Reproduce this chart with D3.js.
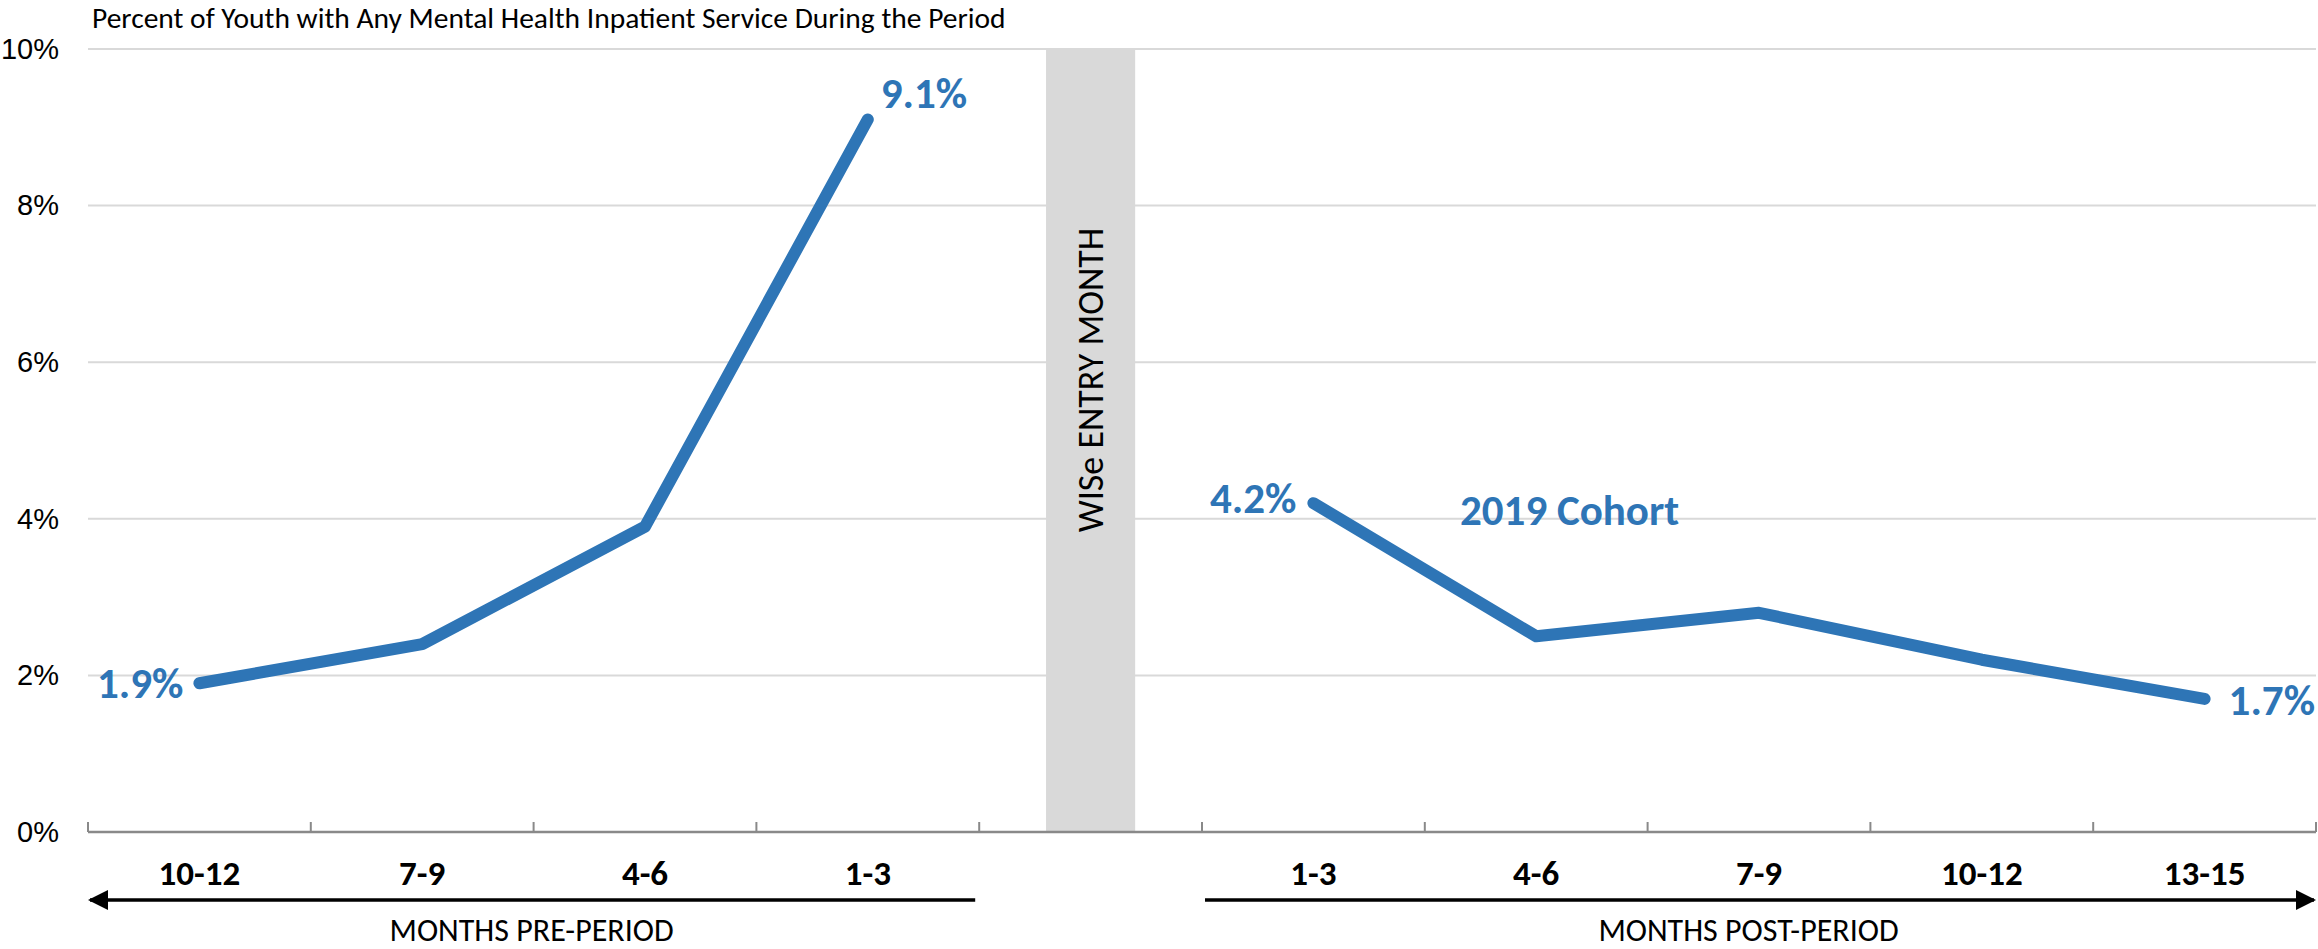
<!DOCTYPE html>
<html>
<head>
<meta charset="utf-8">
<script src="https://cdn.jsdelivr.net/npm/d3@7"></script>
<style>
  html, body { margin: 0; padding: 0; background: #fff; }
  svg { display: block; font-family: Carlito, Calibri, Lato, "Liberation Sans", Arial, sans-serif; }
</style>
</head>
<body>
<svg id="chart" width="2318" height="949"></svg>
<script>
// Quarter buckets around the WISe entry month
const preCategories = ["10-12", "7-9", "4-6", "1-3"];
const postCategories = ["1-3", "4-6", "7-9", "10-12", "13-15"];
const entryCategory = "ENTRY";

// Percent of youth with any mental health inpatient service
const preValues = [1.9, 2.4, 3.9, 9.1];
const postValues = [4.2, 2.5, 2.8, 2.2, 1.7];

const yTicks = [0, 2, 4, 6, 8, 10];
const title = "Percent of Youth with Any Mental Health Inpatient Service During the Period";
const entryLabel = "WISe ENTRY MONTH";
const seriesLabel = "2019 Cohort";
const preAxisTitle = "MONTHS PRE-PERIOD";
const postAxisTitle = "MONTHS POST-PERIOD";

const blue = "#2E75B6";
const svg = d3.select("#chart");

// One band per bucket, the entry month sits in its own band between the periods
const keys = preCategories.map(c => "pre" + c)
  .concat([entryCategory])
  .concat(postCategories.map(c => "post" + c));

const x = d3.scaleBand().domain(keys).range([88, 2316]).padding(0);
const y = d3.scaleLinear().domain([0, 10]).range([832, 49]);

const preData = preCategories.map((c, i) => ({ key: "pre" + c, label: c, value: preValues[i] }));
const postData = postCategories.map((c, i) => ({ key: "post" + c, label: c, value: postValues[i] }));
const cx = d => x(d.key) + x.bandwidth() / 2;

// Horizontal gridlines
svg.append("g").selectAll("line")
  .data(yTicks.filter(t => t > 0))
  .join("line")
  .attr("x1", x.range()[0]).attr("x2", x.range()[1])
  .attr("y1", d => y(d)).attr("y2", d => y(d))
  .attr("stroke", "#d9d9d9").attr("stroke-width", 2);

// Y axis labels
const yAxis = d3.axisLeft(y).tickValues(yTicks).tickFormat(d => d + "%").tickSize(0).tickPadding(0);
svg.append("g")
  .attr("transform", "translate(59,0)")
  .call(yAxis)
  .call(g => g.select(".domain").remove())
  .call(g => g.selectAll("text")
    .attr("font-family", null)
    .attr("font-size", 29)
    .attr("fill", "#000"));

// Shaded entry-month column
const entryW = x.bandwidth() * 0.4;
svg.append("rect")
  .attr("x", x(entryCategory) + (x.bandwidth() - entryW) / 2)
  .attr("y", y(10))
  .attr("width", entryW)
  .attr("height", y(0) - y(10))
  .attr("fill", "#d9d9d9");

svg.append("text")
  .attr("transform", `translate(${x(entryCategory) + x.bandwidth() / 2 + 12},380) rotate(-90)`)
  .attr("text-anchor", "middle")
  .attr("font-size", 36)
  .attr("fill", "#000")
  .text(entryLabel);

// Category axis with ticks at band boundaries
const bounds = keys.map(k => x(k)).concat([x.range()[1]]);
svg.append("line")
  .attr("x1", x.range()[0]).attr("x2", x.range()[1])
  .attr("y1", y(0)).attr("y2", y(0))
  .attr("stroke", "#898989").attr("stroke-width", 2.5);
svg.append("g").selectAll("line")
  .data(bounds)
  .join("line")
  .attr("x1", d => d).attr("x2", d => d)
  .attr("y1", y(0)).attr("y2", y(0) - 10)
  .attr("stroke", "#898989").attr("stroke-width", 2);

svg.append("g").selectAll("text")
  .data(preData.concat(postData))
  .join("text")
  .attr("x", cx)
  .attr("y", 885)
  .attr("text-anchor", "middle")
  .attr("font-size", 35)
  .attr("font-weight", "bold")
  .attr("fill", "#000")
  .text(d => d.label);

// Direction arrows below the categories
const defs = svg.append("defs");
defs.append("marker")
  .attr("id", "arrowHead")
  .attr("viewBox", "0 0 10 10")
  .attr("refX", 9).attr("refY", 5)
  .attr("markerWidth", 20).attr("markerHeight", 20)
  .attr("markerUnits", "userSpaceOnUse")
  .attr("orient", "auto")
  .append("path").attr("d", "M0,0 L10,5 L0,10 Z").attr("fill", "#000");

const preStart = x(preData[preData.length - 1].key) + x.bandwidth() - 4;
const preEnd = x(preData[0].key);
const postStart = x(postData[0].key) + 3;
const postEnd = x.range()[1];
svg.append("line")
  .attr("x1", preStart).attr("x2", preEnd + 2)
  .attr("y1", 900).attr("y2", 900)
  .attr("stroke", "#000").attr("stroke-width", 3.5)
  .attr("marker-end", "url(#arrowHead)");
svg.append("line")
  .attr("x1", postStart).attr("x2", postEnd - 2)
  .attr("y1", 900).attr("y2", 900)
  .attr("stroke", "#000").attr("stroke-width", 3.5)
  .attr("marker-end", "url(#arrowHead)");

svg.append("text")
  .attr("x", (preStart + preEnd) / 2).attr("y", 941)
  .attr("text-anchor", "middle").attr("font-size", 32).attr("fill", "#000")
  .text(preAxisTitle);
svg.append("text")
  .attr("x", (postStart + postEnd) / 2 - 12).attr("y", 941)
  .attr("text-anchor", "middle").attr("font-size", 32).attr("fill", "#000")
  .text(postAxisTitle);

// Title
svg.append("text")
  .attr("x", 92).attr("y", 28)
  .attr("font-size", 29.5).attr("fill", "#000")
  .text(title);

// Lines for the two periods
const line = d3.line().x(cx).y(d => y(d.value));
[preData, postData].forEach(series => {
  svg.append("path")
    .datum(series)
    .attr("d", line)
    .attr("fill", "none")
    .attr("stroke", blue)
    .attr("stroke-width", 12)
    .attr("stroke-linecap", "round")
    .attr("stroke-linejoin", "round");
});

// Value labels on the end points of each period
const fmt = v => v.toFixed(1) + "%";
const endLabels = [
  { d: preData[0], dx: -16, dy: 15, anchor: "end" },
  { d: preData[preData.length - 1], dx: 13, dy: -11, anchor: "start" },
  { d: postData[0], dx: -17, dy: 10, anchor: "end" },
  { d: postData[postData.length - 1], dx: 24, dy: 16, anchor: "start" }
];
svg.append("g").selectAll("text")
  .data(endLabels)
  .join("text")
  .attr("x", e => cx(e.d) + e.dx)
  .attr("y", e => y(e.d.value) + e.dy)
  .attr("text-anchor", e => e.anchor)
  .attr("font-size", 43)
  .attr("font-weight", "bold")
  .attr("fill", blue)
  .text(e => fmt(e.d.value));

// Series name
svg.append("text")
  .attr("x", 1460).attr("y", 525)
  .attr("font-size", 43)
  .attr("font-weight", "bold")
  .attr("fill", blue)
  .text(seriesLabel);
</script>
</body>
</html>
